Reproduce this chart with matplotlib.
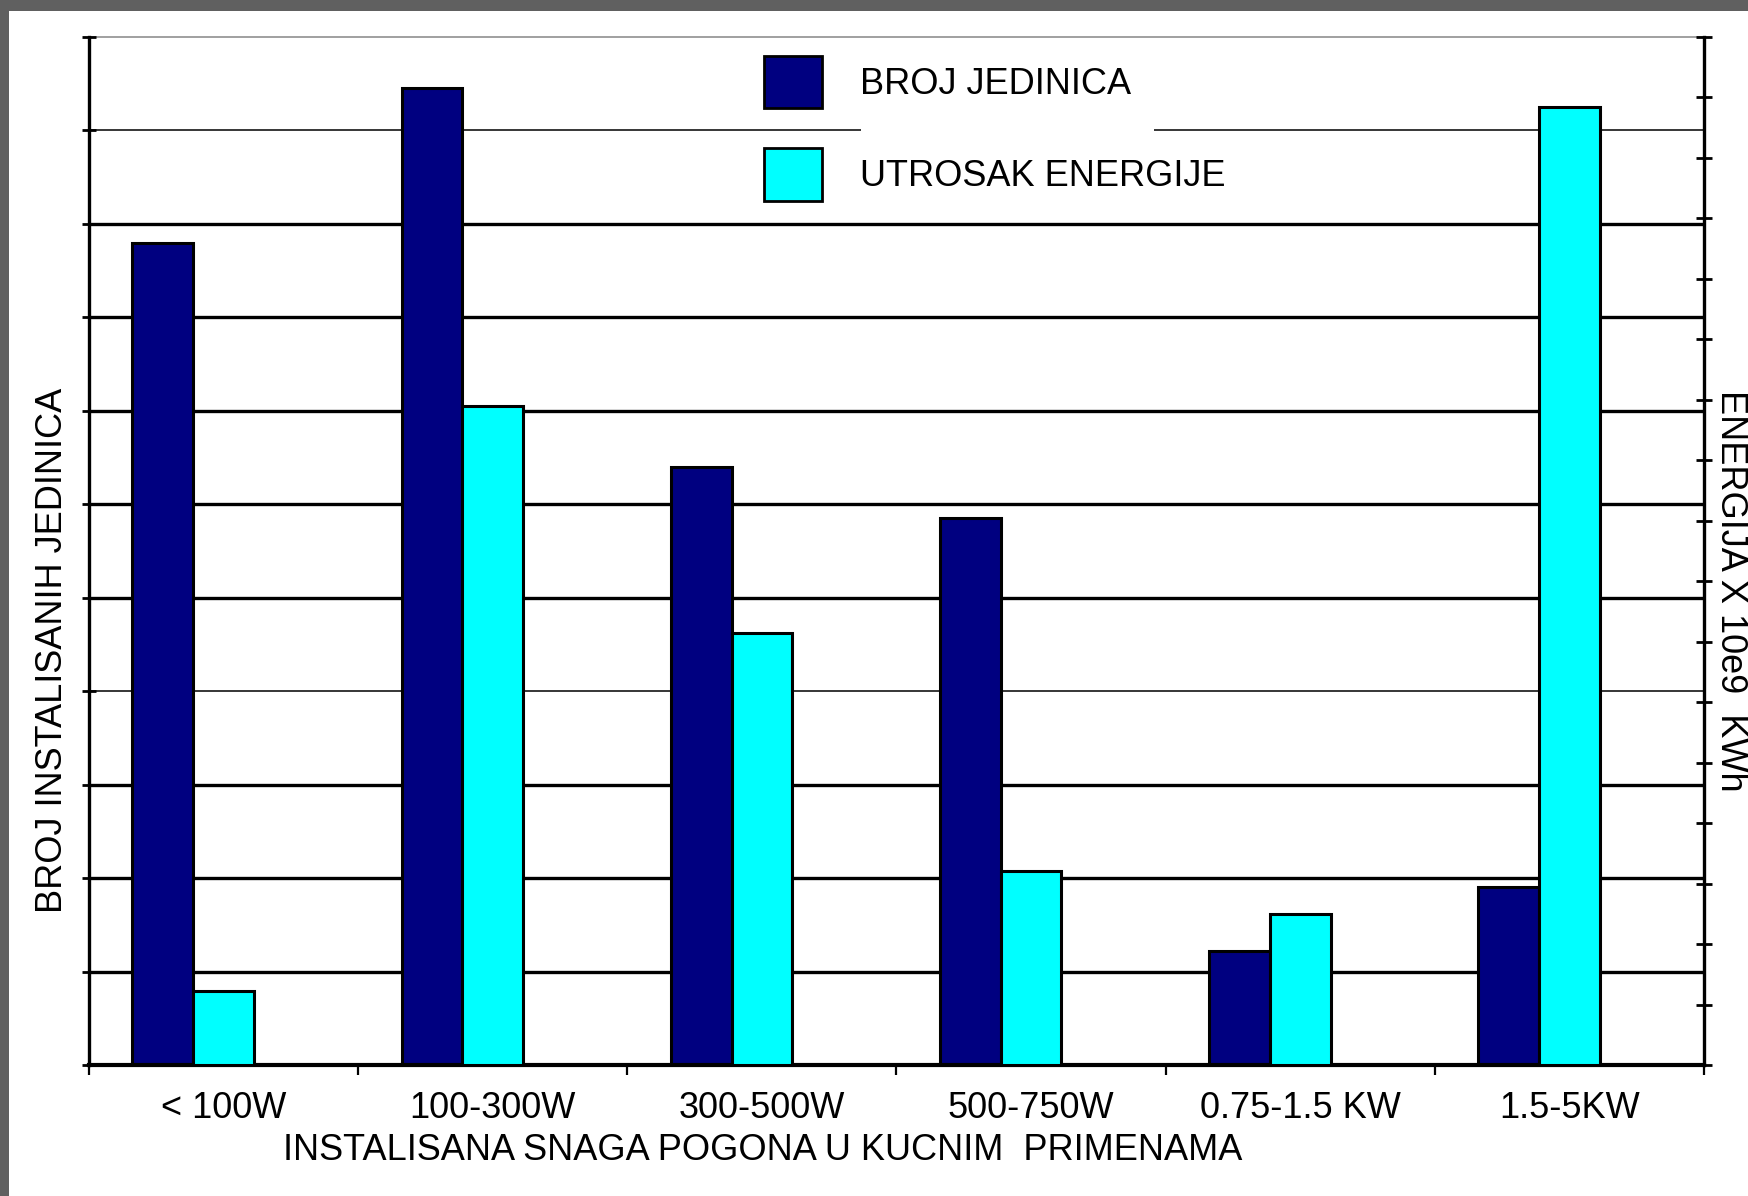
import numpy as np
import matplotlib
matplotlib.use("Agg")
import matplotlib.pyplot as plt
from matplotlib.patches import Patch, Rectangle

plt.rcParams['font.family'] = ['Liberation Sans', 'DejaVu Sans']

# power classes of household drives
categories = ['< 100W', '100-300W', '300-500W', '500-750W', '0.75-1.5 KW', '1.5-5KW']
# number of installed units (left scale, 11 divisions)
units = [8.8, 10.45, 6.4, 5.85, 1.22, 1.9]
# energy use x 10e9 kWh (right scale, 17 divisions)
energy = [1.22, 10.9, 7.15, 3.2, 2.5, 15.85]

W, H = 1749, 1196
FS = 26
fig = plt.figure(figsize=(W / 100, H / 100), dpi=100, facecolor='#606060')
# white page with grey frame at top and left
fig.patches.append(Rectangle((9 / W, 0), 1, 1 - 11 / H, transform=fig.transFigure,
                             facecolor='white', edgecolor='none', zorder=-10))

ax = fig.add_axes([89 / W, 1 - 1065 / H, (1704 - 89) / W, (1065 - 37) / H])
ax.set_facecolor('none')
ax2 = ax.twinx()

x = np.arange(len(categories))
bw = 0.226

# horizontal grid, two of the lines are thinner
for v in range(1, 11):
    lw = 1.1 if v in (4, 10) else 2.4
    ax.axhline(v, color='black', lw=lw, zorder=0.5)

ax.bar(x - bw, units, width=bw, color='#000080', edgecolor='black', linewidth=2.2, zorder=2)
ax2.bar(x, energy, width=bw, color='#00FFFF', edgecolor='black', linewidth=2.2, zorder=2)

ax.set_xlim(-0.5, len(categories) - 0.5)
ax.set_ylim(0, 11)
ax2.set_ylim(0, 17)

# spines
for s in ['top', 'right']:
    ax.spines[s].set_visible(False)
ax.axhline(11, color='#909090', lw=1.2, zorder=0.5, clip_on=False)
ax.spines['left'].set_linewidth(2.4)
ax.spines['bottom'].set_linewidth(3)
for s in ['top', 'left', 'bottom']:
    ax2.spines[s].set_visible(False)
ax2.spines['right'].set_linewidth(2.4)

# ticks
ax.set_yticks(range(12))
ax.tick_params(axis='y', direction='inout', length=10, width=2, labelleft=False)
ax2.set_yticks(range(18))
ax2.tick_params(axis='y', direction='inout', length=12, width=2, labelright=False)
ax.set_xticks(x)
ax.set_xticklabels(categories, fontsize=FS)
ax.set_xticks(np.arange(-0.5, len(categories)), minor=True)
ax.tick_params(axis='x', which='major', length=0, pad=19)
ax.tick_params(axis='x', which='minor', direction='out', length=7, width=1.6)

# axis titles
fig.text(763 / W, 1 - 1150 / H, 'INSTALISANA SNAGA POGONA U KUCNIM  PRIMENAMA',
         fontsize=FS, ha='center', va='center')
fig.text(53 / W, 1 - 650 / H, 'BROJ INSTALISANIH JEDINICA', fontsize=FS,
         rotation=90, ha='center', va='center')
fig.text(1731 / W, 1 - 591 / H, 'ENERGIJA X 10e9  KWh', fontsize=FS,
         rotation=270, ha='center', va='center')

# legend
handles = [Patch(facecolor='#000080', edgecolor='black', linewidth=2),
           Patch(facecolor='#00FFFF', edgecolor='black', linewidth=2)]
ax2.legend(handles, ['BROJ JEDINICA', 'UTROSAK ENERGIJE'], loc='upper left',
           bbox_to_anchor=(764 / W, 1 - 56 / H), bbox_transform=fig.transFigure,
           frameon=False, borderpad=0, borderaxespad=0, fontsize=FS,
           handlelength=1.6, handleheight=1.84, handletextpad=1.05, labelspacing=1.12)
ax2.add_patch(Rectangle((861 / W, 1 - 138 / H), (1154 - 861) / W, 16 / H,
                        transform=fig.transFigure, facecolor='white',
                        edgecolor='none', zorder=1))

fig.savefig('out.png', dpi=100, facecolor=fig.get_facecolor())
